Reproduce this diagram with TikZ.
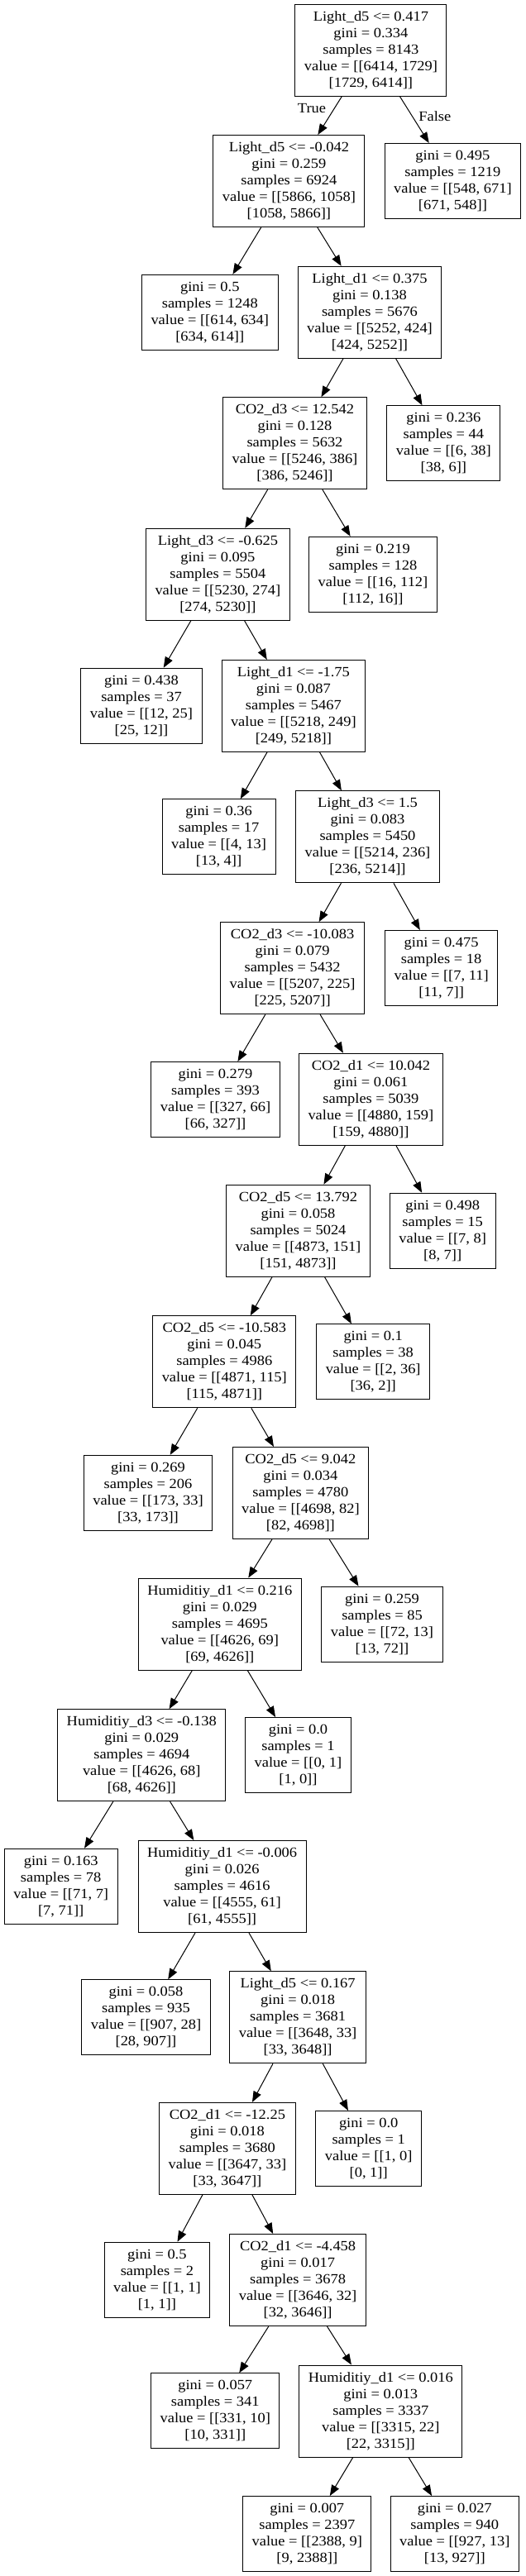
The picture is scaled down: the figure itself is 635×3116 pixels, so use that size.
\documentclass[tikz,border=0pt]{standalone}
\usepackage{fontspec}
\setmainfont[FakeStretch=1.085]{Liberation Serif}
\usetikzlibrary{arrows.meta}
\newcommand\treefont{\fontsize{17pt}{20pt}\selectfont}
\tikzset{
  box/.style={draw=black, rectangle, align=center, inner xsep=11pt, inner ysep=0pt, font=\treefont, line width=1pt},
  split/.style={box, minimum height=111pt},
  leaf/.style={box, minimum height=91pt},
  arr/.style={-{Triangle[length=13pt,width=10pt]}, line width=1pt},
  lbl/.style={font=\treefont, inner sep=0pt}
}
\begin{document}
\begin{tikzpicture}[x=1pt,y=-1pt]
\useasboundingbox (0,0) rectangle (635,3116);
\node[split] (n0) at (448.4,60.5) {Light\_d5 <= 0.417\\gini = 0.334\\samples = 8143\\value = [[6414, 1729]\\{}[1729, 6414]]};
\node[split] (n1) at (349.4,219) {Light\_d5 <= -0.042\\gini = 0.259\\samples = 6924\\value = [[5866, 1058]\\{}[1058, 5866]]};
\node[leaf] (n2) at (547.4,219) {gini = 0.495\\samples = 1219\\value = [[548, 671]\\{}[671, 548]]};
\node[leaf] (n3) at (253.8,377.8) {gini = 0.5\\samples = 1248\\value = [[614, 634]\\{}[634, 614]]};
\node[split] (n4) at (447,377.8) {Light\_d1 <= 0.375\\gini = 0.138\\samples = 5676\\value = [[5252, 424]\\{}[424, 5252]]};
\node[split] (n5) at (356.5,536.2) {CO2\_d3 <= 12.542\\gini = 0.128\\samples = 5632\\value = [[5246, 386]\\{}[386, 5246]]};
\node[leaf] (n6) at (536.4,536.2) {gini = 0.236\\samples = 44\\value = [[6, 38]\\{}[38, 6]]};
\node[split] (n7) at (263.4,694.8) {Light\_d3 <= -0.625\\gini = 0.095\\samples = 5504\\value = [[5230, 274]\\{}[274, 5230]]};
\node[leaf] (n8) at (451,694.8) {gini = 0.219\\samples = 128\\value = [[16, 112]\\{}[112, 16]]};
\node[leaf] (n9) at (171,853.7) {gini = 0.438\\samples = 37\\value = [[12, 25]\\{}[25, 12]]};
\node[split] (n10) at (354.9,854) {Light\_d1 <= -1.75\\gini = 0.087\\samples = 5467\\value = [[5218, 249]\\{}[249, 5218]]};
\node[leaf] (n11) at (264.6,1012.3) {gini = 0.36\\samples = 17\\value = [[4, 13]\\{}[13, 4]]};
\node[split] (n12) at (444.5,1012.3) {Light\_d3 <= 1.5\\gini = 0.083\\samples = 5450\\value = [[5214, 236]\\{}[236, 5214]]};
\node[split] (n13) at (353.6,1171.2) {CO2\_d3 <= -10.083\\gini = 0.079\\samples = 5432\\value = [[5207, 225]\\{}[225, 5207]]};
\node[leaf] (n14) at (533.6,1171) {gini = 0.475\\samples = 18\\value = [[7, 11]\\{}[11, 7]]};
\node[leaf] (n15) at (260.5,1330) {gini = 0.279\\samples = 393\\value = [[327, 66]\\{}[66, 327]]};
\node[split] (n16) at (448.4,1329.7) {CO2\_d1 <= 10.042\\gini = 0.061\\samples = 5039\\value = [[4880, 159]\\{}[159, 4880]]};
\node[split] (n17) at (360.5,1488.7) {CO2\_d5 <= 13.792\\gini = 0.058\\samples = 5024\\value = [[4873, 151]\\{}[151, 4873]]};
\node[leaf] (n18) at (535.2,1488.7) {gini = 0.498\\samples = 15\\value = [[7, 8]\\{}[8, 7]]};
\node[split] (n19) at (271.3,1647.3) {CO2\_d5 <= -10.583\\gini = 0.045\\samples = 4986\\value = [[4871, 115]\\{}[115, 4871]]};
\node[leaf] (n20) at (451.2,1647.3) {gini = 0.1\\samples = 38\\value = [[2, 36]\\{}[36, 2]]};
\node[leaf] (n21) at (179,1805.8) {gini = 0.269\\samples = 206\\value = [[173, 33]\\{}[33, 173]]};
\node[split] (n22) at (363.4,1806) {CO2\_d5 <= 9.042\\gini = 0.034\\samples = 4780\\value = [[4698, 82]\\{}[82, 4698]]};
\node[split] (n23) at (265.8,1964.5) {Humiditiy\_d1 <= 0.216\\gini = 0.029\\samples = 4695\\value = [[4626, 69]\\{}[69, 4626]]};
\node[leaf] (n24) at (462,1964.7) {gini = 0.259\\samples = 85\\value = [[72, 13]\\{}[13, 72]]};
\node[split] (n25) at (171.3,2123.2) {Humiditiy\_d3 <= -0.138\\gini = 0.029\\samples = 4694\\value = [[4626, 68]\\{}[68, 4626]]};
\node[leaf] (n26) at (360.5,2123) {gini = 0.0\\samples = 1\\value = [[0, 1]\\{}[1, 0]]};
\node[leaf] (n27) at (73.7,2281.7) {gini = 0.163\\samples = 78\\value = [[71, 7]\\{}[7, 71]]};
\node[split] (n28) at (268.6,2282) {Humiditiy\_d1 <= -0.006\\gini = 0.026\\samples = 4616\\value = [[4555, 61]\\{}[61, 4555]]};
\node[leaf] (n29) at (176.5,2440.3) {gini = 0.058\\samples = 935\\value = [[907, 28]\\{}[28, 907]]};
\node[split] (n30) at (360.1,2440.3) {Light\_d5 <= 0.167\\gini = 0.018\\samples = 3681\\value = [[3648, 33]\\{}[33, 3648]]};
\node[split] (n31) at (274.9,2598.8) {CO2\_d1 <= -12.25\\gini = 0.018\\samples = 3680\\value = [[3647, 33]\\{}[33, 3647]]};
\node[leaf] (n32) at (445.7,2599) {gini = 0.0\\samples = 1\\value = [[1, 0]\\{}[0, 1]]};
\node[leaf] (n33) at (189.9,2757.7) {gini = 0.5\\samples = 2\\value = [[1, 1]\\{}[1, 1]]};
\node[split] (n34) at (360.1,2758) {CO2\_d1 <= -4.458\\gini = 0.017\\samples = 3678\\value = [[3646, 32]\\{}[32, 3646]]};
\node[leaf] (n35) at (260.3,2916.3) {gini = 0.057\\samples = 341\\value = [[331, 10]\\{}[10, 331]]};
\node[split] (n36) at (460.3,2916.5) {Humiditiy\_d1 <= 0.016\\gini = 0.013\\samples = 3337\\value = [[3315, 22]\\{}[22, 3315]]};
\node[leaf] (n37) at (371.3,3065) {gini = 0.007\\samples = 2397\\value = [[2388, 9]\\{}[9, 2388]]};
\node[leaf] (n38) at (549.8,3065) {gini = 0.027\\samples = 940\\value = [[927, 13]\\{}[13, 927]]};
\node[lbl] (ltrue) at (377,130.7) {True};
\node[lbl] (lfalse) at (525.8,140.7) {False};
\foreach \a/\b in {n0/n1,n0/n2,n1/n3,n1/n4,n4/n5,n4/n6,n5/n7,n5/n8,n7/n9,n7/n10,n10/n11,n10/n12,n12/n13,n12/n14,n13/n15,n13/n16,n16/n17,n16/n18,n17/n19,n17/n20,n19/n21,n19/n22,n22/n23,n22/n24,n23/n25,n23/n26,n25/n27,n25/n28,n28/n29,n28/n30,n30/n31,n30/n32,n31/n33,n31/n34,n34/n35,n34/n36,n36/n37,n36/n38}
  \draw[arr] (\a) -- (\b);
\end{tikzpicture}
\end{document}
